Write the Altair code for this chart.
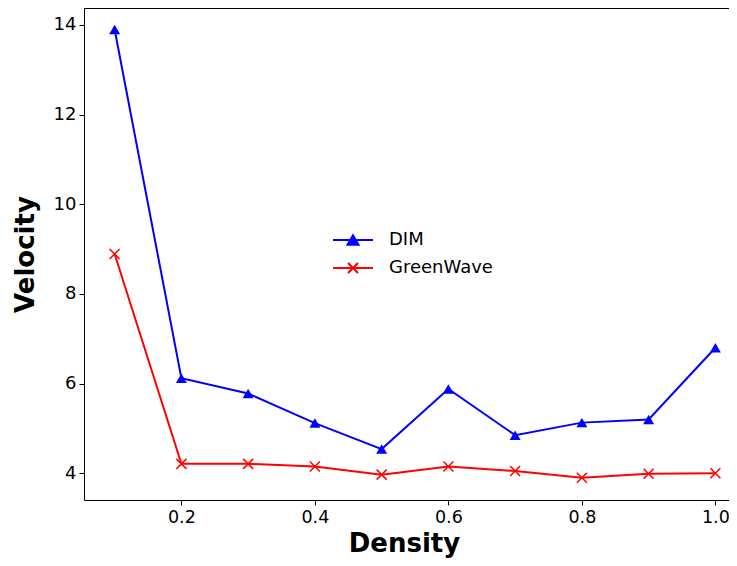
import altair as alt
import pandas as pd

density = [0.1, 0.2, 0.3, 0.4, 0.5, 0.6, 0.7, 0.8, 0.9, 1.0]
dim = [13.90, 6.12, 5.78, 5.12, 4.54, 5.88, 4.85, 5.13, 5.20, 6.80]
greenwave = [8.89, 4.21, 4.21, 4.15, 3.97, 4.15, 4.05, 3.90, 3.99, 4.00]
series = ["DIM", "GreenWave"]
colors = ["#0000ff", "#ff0000"]
x_ticks = [0.2, 0.4, 0.6, 0.8, 1.0]
y_ticks = [4, 6, 8, 10, 12, 14]

df = pd.DataFrame({
    "Density": density + density,
    "Velocity": dim + greenwave,
    "series": ["DIM"] * len(dim) + ["GreenWave"] * len(greenwave),
})

W, H = 640, 492
PAD_R = 5
FONT = "DejaVu Sans"
X_MARK = "M-1,-1L1,1M-1,1L1,-1"

x = alt.X("Density:Q",
          scale=alt.Scale(domain=[0.0541, 0.0541 + W / 667.5], nice=False, zero=False),
          axis=alt.Axis(values=x_ticks, format=".1f", title="Density",
                        titlePadding=5, labelFontSize=17.5))
y = alt.Y("Velocity:Q",
          scale=alt.Scale(domain=[3.404, 14.379], nice=False, zero=False),
          axis=alt.Axis(values=y_ticks, format="d", title="Velocity",
                        titlePadding=15))

base = alt.Chart(df)

layers = []
for name, col, shp, filled, sz in [("DIM", colors[0], "triangle-up", True, 120),
                                   ("GreenWave", colors[1], X_MARK, False, 100)]:
    sub = base.transform_filter(alt.datum.series == name)
    layers.append(sub.mark_line(strokeWidth=2, color=col).encode(x=x, y=y))
    layers.append(sub.mark_point(shape=shp, filled=filled, color=col, opacity=1,
                                 strokeWidth=1.5, size=sz).encode(x=x, y=y))

legend_shapes = ["M-4,0H4M0,-0.95L1.1,0.95L-1.1,0.95Z",
                 "M-4,0H4M-1,-1L1,1M-1,1L1,-1"]

legend = alt.Legend(
    orient="none", legendX=260, legendY=223, title=None,
    labelFont=FONT, labelFontSize=18, labelColor="black",
    symbolSize=100, symbolStrokeWidth=2, symbolOpacity=1, labelOffset=27,
    rowPadding=10, padding=0,
)

legend_layer = base.mark_point(filled=False, opacity=0).encode(
    x=x, y=y,
    shape=alt.Shape("series:N", scale=alt.Scale(domain=series, range=legend_shapes),
                    legend=legend),
    stroke=alt.Stroke("series:N", scale=alt.Scale(domain=series, range=colors),
                      legend=legend),
    fill=alt.Fill("series:N",
                  scale=alt.Scale(domain=series, range=["#0000ff", "transparent"]),
                  legend=legend),
)

frame_df = pd.DataFrame({"edge": [0]})
top_edge = alt.Chart(frame_df).mark_rule(color="black", strokeWidth=1).encode(
    x=alt.value(0), x2=alt.value(W + PAD_R), y=alt.value(0.5))
bottom_edge = alt.Chart(frame_df).mark_rule(color="black", strokeWidth=1).encode(
    x=alt.value(W), x2=alt.value(W + PAD_R), y=alt.value(H + 0.5))

chart = alt.layer(top_edge, bottom_edge, *layers, legend_layer).properties(
    width=W, height=H,
    autosize=alt.AutoSizeParams(type="none"),
    padding={"left": 76, "top": 0, "right": PAD_R, "bottom": 58},
).configure_view(stroke=None).configure_axis(
    grid=False,
    labelFont=FONT, labelFontSize=18, labelColor="black",
    titleFont=FONT, titleFontSize=26, titleFontWeight="bold", titleColor="black",
    domainColor="black", domainWidth=1, tickColor="black", tickWidth=1,
    tickSize=5, labelPadding=3, labelFlush=False, labelOverlap=False,
)

chart.save("out.html", embed_options={"renderer": "svg", "actions": False})
